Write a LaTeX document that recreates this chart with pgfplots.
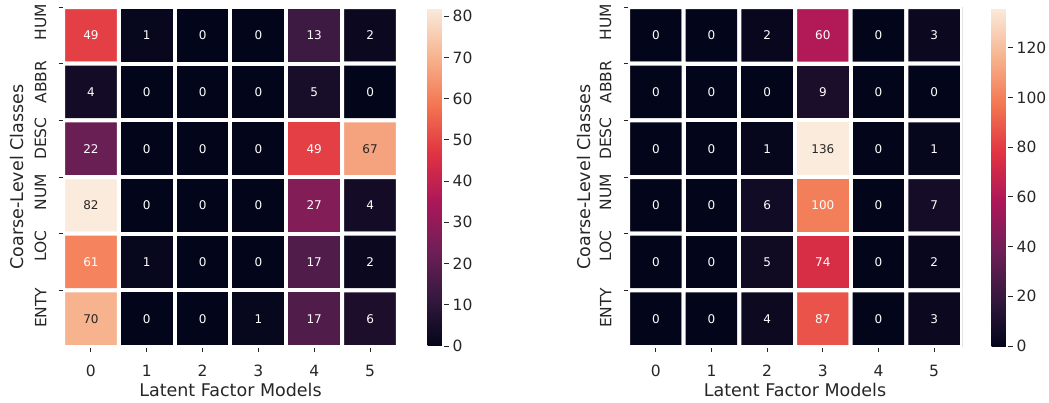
\documentclass[border=0pt]{standalone}
\usepackage{fontspec}
\setmainfont{DejaVu Sans}
\usepackage{pgfplots}
\usepackage{pgfplotstable}
\pgfplotsset{compat=1.18}
\definecolor{txt}{HTML}{262626}

% x = model, y = class row (0=HUM ... 5=ENTY), c = count, t = 1 white text / 0 dark text
\pgfplotstableread{
x y c t
0 0 49 1
1 0 1 1
2 0 0 1
3 0 0 1
4 0 13 1
5 0 2 1
0 1 4 1
1 1 0 1
2 1 0 1
3 1 0 1
4 1 5 1
5 1 0 1
0 2 22 1
1 2 0 1
2 2 0 1
3 2 0 1
4 2 49 1
5 2 67 0
0 3 82 0
1 3 0 1
2 3 0 1
3 3 0 1
4 3 27 1
5 3 4 1
0 4 61 1
1 4 1 1
2 4 0 1
3 4 0 1
4 4 17 1
5 4 2 1
0 5 70 0
1 5 0 1
2 5 0 1
3 5 1 1
4 5 17 1
5 5 6 1
}\dataL

\pgfplotstableread{
x y c t
0 0 0 1
1 0 0 1
2 0 2 1
3 0 60 1
4 0 0 1
5 0 3 1
0 1 0 1
1 1 0 1
2 1 0 1
3 1 9 1
4 1 0 1
5 1 0 1
0 2 0 1
1 2 0 1
2 2 1 1
3 2 136 0
4 2 0 1
5 2 1 1
0 3 0 1
1 3 0 1
2 3 6 1
3 3 100 1
4 3 0 1
5 3 7 1
0 4 0 1
1 4 0 1
2 4 5 1
3 4 74 1
4 4 0 1
5 4 2 1
0 5 0 1
1 5 0 1
2 5 4 1
3 5 87 1
4 5 0 1
5 5 3 1
}\dataR

\pgfplotsset{
  /pgf/number format/assume math mode=true,
  colormap={rocket}{rgb255=(3,5,26) rgb255=(53,25,62) rgb255=(112,31,87) rgb255=(173,23,89) rgb255=(225,51,66) rgb255=(243,118,81) rgb255=(246,180,143) rgb255=(250,235,221)},
  cbs/.style={
      at={(parent axis.north east)}, anchor=north west, xshift=21pt, yshift=-1pt,
      scale only axis, width=16.5pt, height=338pt,
      axis line style={draw=none},
      tick align=outside, ytick pos=right, yticklabel pos=right,
      major tick length=4.5pt,
      every tick/.style={txt, line width=0.9pt},
      yticklabel style={font=\fontsize{15.5}{18}\selectfont, text=txt, anchor=west, inner sep=0pt, xshift=4pt},
  },
  hm/.style={
    scale only axis, height=340pt,
    xmin=-0.5, xmax=5.5, ymin=-0.5, ymax=5.5, y dir=reverse,
    axis line style={draw=none},
    tick align=outside, tick pos=left,
    major tick length=4.5pt,
    every tick/.style={txt, line width=0.9pt},
    xtick={0,...,5},
    ytick={-0.5,0.5,1.5,2.5,3.5,4.5},
    yticklabels={HUM,ABBR,DESC,NUM,LOC,ENTY},
    ticklabel style={font=\fontsize{15.5}{18}\selectfont, text=txt},
    yticklabel style={xshift=-12pt, yshift=3pt, rotate=90, anchor=south east, inner sep=0pt},
    xticklabel style={anchor=base, yshift=-25pt, inner sep=0pt},
    xlabel={Latent Factor Models},
    ylabel={Coarse-Level Classes},
    every axis x label/.style={at={(axis description cs:0.5,-0.127)}, anchor=center,
      font=\fontsize{17.5}{21}\selectfont, text=txt},
    colorbar,
  },
  ylab/.style={every axis y label/.style={at={(axis description cs:#1,0.5)}, rotate=90, anchor=center,
      font=\fontsize{17.5}{21}\selectfont, text=txt}},
  cells/.style={matrix plot*, mesh/cols=6, point meta=explicit, draw=white, line width=4pt},
  annots/.style={only marks, mark=none, point meta=explicit, nodes near coords,
    every node near coord/.append style={anchor=center, font=\fontsize{12}{14}\selectfont, text=#1}},
}

\begin{document}
\begin{tikzpicture}
\useasboundingbox (0,0) rectangle (1049pt,402pt);
\begin{axis}[hm, at={(63pt,55pt)}, anchor=south west, width=335pt, ylab=-0.137,
  point meta min=0, point meta max=82,
  colorbar style={/pgfplots/cbs, ytick={0,10,...,80}}]
\addplot[cells] table[x=x, y=y, meta=c] {\dataL};
\addplot[annots=white, restrict expr to domain={\thisrow{t}}{1:1}] table[x=x, y=y, meta=c] {\dataL};
\addplot[annots=txt, restrict expr to domain={\thisrow{t}}{0:0}] table[x=x, y=y, meta=c] {\dataL};
\end{axis}
\begin{axis}[hm, at={(628pt,55pt)}, anchor=south west, width=334pt, ylab=-0.133,
  point meta min=0, point meta max=136,
  colorbar style={/pgfplots/cbs, ytick={0,20,...,120}}]
\addplot[cells] table[x=x, y=y, meta=c] {\dataR};
\addplot[annots=white, restrict expr to domain={\thisrow{t}}{1:1}] table[x=x, y=y, meta=c] {\dataR};
\addplot[annots=txt, restrict expr to domain={\thisrow{t}}{0:0}] table[x=x, y=y, meta=c] {\dataR};
\end{axis}
\end{tikzpicture}
\end{document}
